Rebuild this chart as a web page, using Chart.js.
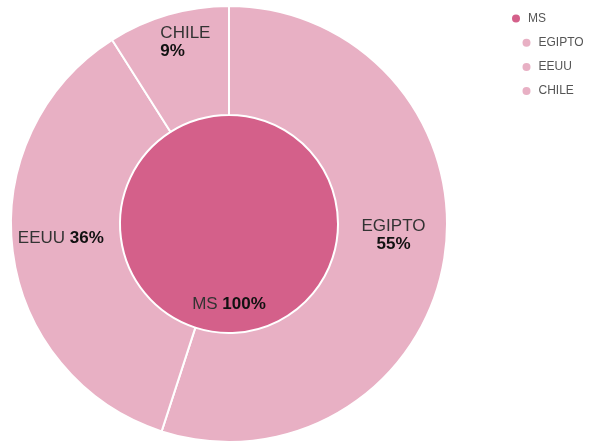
<!DOCTYPE html>
<html>
<head>
<meta charset="utf-8">
<script src="https://cdn.jsdelivr.net/npm/chart.js@4"></script>
<style>
    html, body { margin: 0; padding: 0; background: #fff; }
    #wrap { width: 597px; height: 445px; position: relative; }
</style>
</head>
<body>
<div id="wrap"><canvas id="sunburst"></canvas></div>
<script>
const rootLabels = ["MS"];
const rootValues = [100];
const countryLabels = ["EGIPTO", "EEUU", "CHILE"];
const countryValues = [55, 36, 9];

const rootColor = "#d4608a";
const countryColor = "#e8b0c4";
const fontFamily = "'Liberation Sans', Arial, sans-serif";

// where each label block sits relative to the middle of its arc
const labelLayout = {
    EGIPTO: { twoLines: true, align: "center", dx: 3, dy: -14 },
    EEUU: { twoLines: false, dx: -6, dy: -6 },
    CHILE: { twoLines: true, align: "left", dx: 2, dy: -25 }
};

const arcLabels = {
    id: "arcLabels",
    afterDatasetsDraw(chart) {
        const ctx = chart.ctx;
        ctx.save();
        ctx.textBaseline = "middle";
        const normal = "17px " + fontFamily;
        const bold = "bold 17px " + fontFamily;

        chart.data.datasets.forEach((ds, di) => {
            const meta = chart.getDatasetMeta(di);
            const total = ds.data.reduce((a, b) => a + b, 0);
            meta.data.forEach((arc, i) => {
                const p = arc.getProps(["x", "y", "startAngle", "endAngle", "innerRadius", "outerRadius"], true);
                const name = ds.labels[i];
                const pct = Math.round(ds.data[i] / total * 100) + "%";
                let ax, ay;
                if (p.innerRadius === 0) {
                    ax = p.x;
                    ay = p.y + p.outerRadius * 0.74;
                } else {
                    const mid = (p.startAngle + p.endAngle) / 2;
                    const r = (p.innerRadius + p.outerRadius) / 2;
                    ax = p.x + Math.cos(mid) * r;
                    ay = p.y + Math.sin(mid) * r;
                }
                const lay = labelLayout[name] || { twoLines: false, dx: 0, dy: 0 };
                ax += lay.dx;
                ay += lay.dy;

                if (lay.twoLines) {
                    ctx.font = normal;
                    const w1 = ctx.measureText(name).width;
                    ctx.font = bold;
                    const w2 = ctx.measureText(pct).width;
                    const left = ax - Math.max(w1, w2) / 2;
                    ctx.textAlign = lay.align;
                    const x = lay.align === "left" ? left : ax;
                    ctx.font = normal;
                    ctx.fillStyle = "#333";
                    ctx.fillText(name, x, ay - 9);
                    ctx.font = bold;
                    ctx.fillStyle = "#111";
                    ctx.fillText(pct, x, ay + 9);
                } else {
                    ctx.font = normal;
                    const w1 = ctx.measureText(name + " ").width;
                    ctx.font = bold;
                    const w2 = ctx.measureText(pct).width;
                    const left = ax - (w1 + w2) / 2;
                    ctx.textAlign = "left";
                    ctx.font = normal;
                    ctx.fillStyle = "#333";
                    ctx.fillText(name + " ", left, ay);
                    ctx.font = bold;
                    ctx.fillStyle = "#111";
                    ctx.fillText(pct, left + w1, ay);
                }
            });
        });
        ctx.restore();
    }
};

// hierarchical legend: root first, children indented under it
const treeLegend = {
    id: "treeLegend",
    afterDraw(chart) {
        const ctx = chart.ctx;
        const items = [{ text: rootLabels[0], color: rootColor, indent: 0 }]
            .concat(countryLabels.map(t => ({ text: t, color: countryColor, indent: 1 })));
        ctx.save();
        ctx.font = "12px " + fontFamily;
        ctx.textBaseline = "middle";
        ctx.textAlign = "left";
        items.forEach((item, i) => {
            const x = 516 + item.indent * 10.5;
            const y = 18.5 + i * 24.2;
            ctx.beginPath();
            ctx.arc(x, y, 4, 0, Math.PI * 2);
            ctx.fillStyle = item.color;
            ctx.fill();
            ctx.fillStyle = "#555";
            ctx.fillText(item.text, x + 12, y);
        });
        ctx.restore();
    }
};

new Chart(document.getElementById("sunburst").getContext("2d"), {
    type: "doughnut",
    data: {
        datasets: [
            {
                labels: countryLabels,
                data: countryValues,
                backgroundColor: countryColor,
                borderColor: "#fff",
                borderWidth: 2
            },
            {
                labels: rootLabels,
                data: rootValues,
                backgroundColor: rootColor,
                borderWidth: 0
            }
        ]
    },
    options: {
        responsive: true,
        maintainAspectRatio: false,
        animation: false,
        cutout: 0,
        layout: { padding: { left: 10, right: 149, top: 5, bottom: 2 } },
        plugins: {
            legend: { display: false },
            tooltip: { enabled: false }
        }
    },
    plugins: [arcLabels, treeLegend]
});
</script>
</body>
</html>
